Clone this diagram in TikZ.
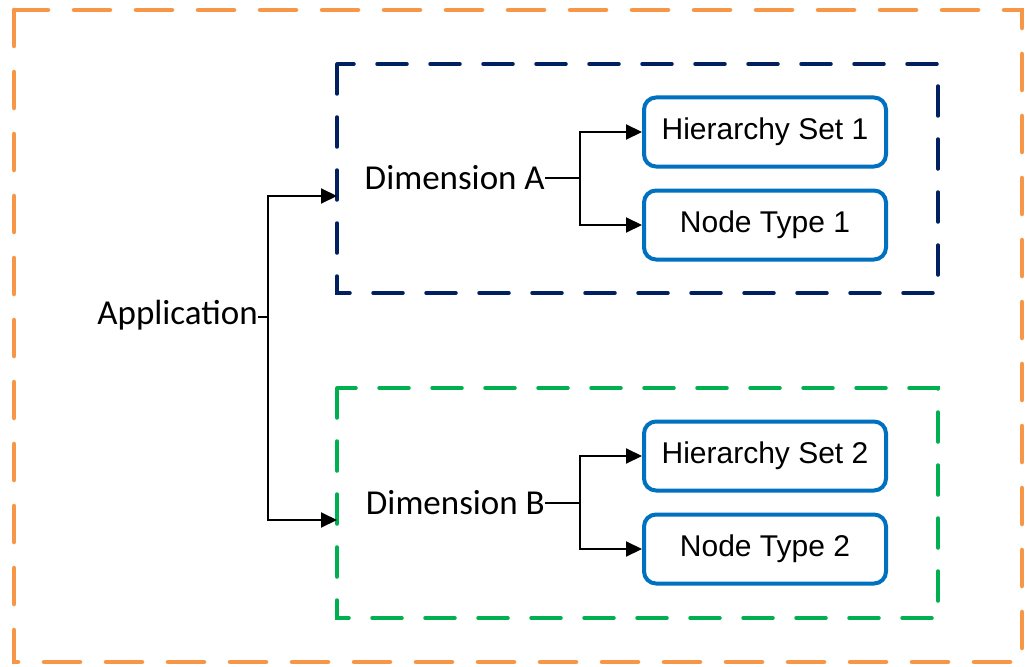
\documentclass[tikz,border=0pt]{standalone}
\usepackage{fontspec}
\setmainfont{Carlito}
\newfontfamily\arialfont{Liberation Sans}
\usetikzlibrary{arrows.meta}
\definecolor{borange}{RGB}{247,150,70}
\definecolor{bnavy}{RGB}{0,32,96}
\definecolor{bgreen}{RGB}{0,176,80}
\definecolor{bblue}{RGB}{0,112,192}
\tikzset{
  outerbox/.style={draw=borange, line width=4.5pt, line cap=round, dash pattern=on 36pt off 26pt},
  dimboxA/.style={draw=bnavy, line width=3.5pt, line cap=round, dash pattern=on 30pt off 23pt},
  dimboxB/.style={draw=bgreen, line width=3.5pt, line cap=round, dash pattern=on 30pt off 23pt},
  leaf/.style={draw=bblue, line width=4pt, rounded corners=12pt, minimum width=242pt, minimum height=69pt, inner sep=0pt, font=\arialfont\fontsize{30}{36}\selectfont, fill=white},
  lbl/.style={inner sep=0pt, font=\fontsize{35}{42}\selectfont},
  conn/.style={draw=black, line width=2pt, -{Triangle[length=16pt,width=15pt]}},
  plain/.style={draw=black, line width=2pt}
}
\begin{document}
\begin{tikzpicture}[x=1pt,y=-1pt]
\useasboundingbox (0,0) rectangle (1027,666);
\fill[white] (0,0) rectangle (1027,666);
% outer box
\draw[outerbox] (14,10) rectangle (1022,662);
% dimension boxes
\draw[dimboxA] (337,64) rectangle (938,293);
\draw[dimboxB] (337,388) rectangle (938,618);
% labels
\node[lbl, anchor=base east] (app) at (258,324) {Application};
\node[lbl, anchor=base east] (dimA) at (545,189) {Dimension A};
\node[lbl, anchor=base east] (dimB) at (545,514) {Dimension B};
% leaves
\node[leaf] (hs1) at (765,132) {Hierarchy Set 1};
\node[leaf] (nt1) at (765,225) {Node Type 1};
\node[leaf] (hs2) at (765,456) {Hierarchy Set 2};
\node[leaf] (nt2) at (765,549) {Node Type 2};
% connector points
\coordinate (appout) at (258,317);
\coordinate (split) at (268,317);
\coordinate (inA) at (337,196);
\coordinate (inB) at (337,520);
\coordinate (aout) at (545,178);
\coordinate (bout) at (545,503);
\coordinate (forkA) at (580,178);
\coordinate (forkB) at (580,503);
% connectors
\draw[plain] (appout) -- (split);
\draw[conn] (split) |- (inA);
\draw[conn] (split) |- (inB);
\draw[plain] (aout) -- (forkA);
\draw[conn] (forkA) |- (hs1.west);
\draw[conn] (forkA) |- (nt1.west);
\draw[plain] (bout) -- (forkB);
\draw[conn] (forkB) |- (hs2.west);
\draw[conn] (forkB) |- (nt2.west);
\end{tikzpicture}
\end{document}
